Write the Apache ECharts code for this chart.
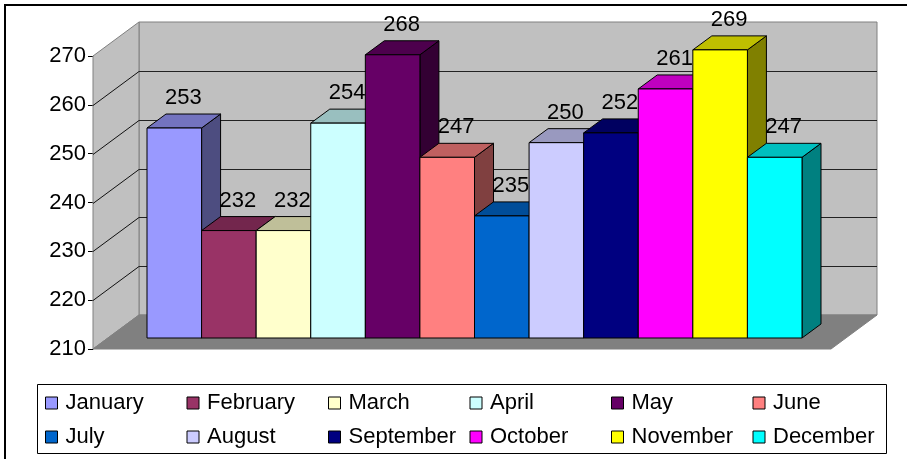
<!DOCTYPE html>
<html>
<head>
<meta charset="utf-8">
<script src="https://cdn.jsdelivr.net/npm/echarts@6/dist/echarts.min.js"></script>
<style>
html, body { margin: 0; padding: 0; background: #fff; }
#chart { width: 907px; height: 459px; }
</style>
</head>
<body>
<div id="chart"></div>
<script>
const months = ['January', 'February', 'March', 'April', 'May', 'June',
  'July', 'August', 'September', 'October', 'November', 'December'];
const values = [253, 232, 232, 254, 268, 247, 235, 250, 252, 261, 269, 247];
const colors = ['#9999FF', '#993366', '#FFFFCC', '#CCFFFF', '#660066', '#FF8080',
  '#0066CC', '#CCCCFF', '#000080', '#FF00FF', '#FFFF00', '#00FFFF'];
const yTicks = [210, 220, 230, 240, 250, 260, 270];

const FONT = 'Liberation Sans, Arial, sans-serif';
const FS = 22;
// fake 3d offsets (px)
const WALL = [46, -34];
const BAR_IN = [15, -11];
const BAR_DEPTH = [19, -14];
const AXIS_OFFSET = 39;
const FLOOR_RIGHT = 44;

const shade = (hex, f) => {
  const n = parseInt(hex.slice(1), 16);
  const r = Math.round(((n >> 16) & 255) * f);
  const g = Math.round(((n >> 8) & 255) * f);
  const b = Math.round((n & 255) * f);
  return 'rgb(' + r + ',' + g + ',' + b + ')';
};

const renderWalls = (params, api) => {
  const cs = params.coordSys;
  const fl = cs.x - AXIS_OFFSET;
  const fr = cs.x + cs.width + FLOOR_RIGHT;
  const y0 = api.coord([0, yTicks[0]])[1];
  const yt = api.coord([0, yTicks[yTicks.length - 1]])[1];
  const [dx, dy] = WALL;
  const children = [
    { type: 'rect', shape: { x: fl + dx, y: yt + dy, width: fr - fl, height: y0 - yt },
      style: { fill: '#C0C0C0', stroke: '#808080', lineWidth: 1 } },
    { type: 'polygon', shape: { points: [[fl, y0], [fl, yt], [fl + dx, yt + dy], [fl + dx, y0 + dy]] },
      style: { fill: '#C0C0C0', stroke: '#808080', lineWidth: 1 } },
    { type: 'polygon', shape: { points: [[fl, y0], [fr, y0], [fr + dx, y0 + dy], [fl + dx, y0 + dy]] },
      style: { fill: '#808080', stroke: '#808080', lineWidth: 1 } }
  ];
  yTicks.slice(1, -1).forEach(t => {
    const y = Math.round(api.coord([0, t])[1]) + 0.5;
    children.push({ type: 'line', shape: { x1: fl + dx, y1: y + dy, x2: fr + dx, y2: y + dy },
      style: { stroke: '#222', lineWidth: 1 } });
    children.push({ type: 'line', shape: { x1: fl, y1: y, x2: fl + dx, y2: y + dy },
      style: { stroke: '#111', lineWidth: 1 } });
  });
  return { type: 'group', children };
};

const renderBar = (k) => (params, api) => {
  const i = api.value(0);
  const v = api.value(1);
  const top = api.coord([i, v]);
  const bot = api.coord([i, yTicks[0]]);
  const w = api.size([1, 0])[0];
  const x0 = top[0] - w / 2 + BAR_IN[0];
  const x1 = x0 + w;
  const yt = top[1] + BAR_IN[1];
  const yb = bot[1] + BAR_IN[1];
  const [dx, dy] = BAR_DEPTH;
  const line = { stroke: '#000', lineWidth: 1, lineJoin: 'round' };
  return {
    type: 'group',
    children: [
      { type: 'polygon', shape: { points: [[x1, yb], [x1, yt], [x1 + dx, yt + dy], [x1 + dx, yb + dy]] },
        style: Object.assign({ fill: shade(colors[k], 0.5) }, line) },
      { type: 'polygon', shape: { points: [[x0, yt], [x1, yt], [x1 + dx, yt + dy], [x0 + dx, yt + dy]] },
        style: Object.assign({ fill: shade(colors[k], 0.75) }, line) },
      { type: 'rect', shape: { x: x0, y: yt, width: w, height: yb - yt },
        style: Object.assign({ fill: colors[k] }, line) },
      { type: 'text', x: (x0 + x1) / 2 + 9, y: yt - 30,
        style: { text: String(v), fill: '#000', font: FS + 'px ' + FONT, align: 'center', verticalAlign: 'middle' } }
    ]
  };
};

const chart = echarts.init(document.getElementById('chart'));

// one legend per item so the columns line up like the original table layout
const legends = months.map((m, k) => ({
  data: [m],
  left: 45 + (k % 6) * 141.5,
  top: k < 6 ? 392 : 426,
  padding: 0,
  icon: 'rect',
  itemWidth: 12,
  itemHeight: 12,
  selectedMode: false,
  itemStyle: { borderColor: '#000', borderWidth: 1 },
  textStyle: { fontSize: FS, fontFamily: FONT, color: '#000', padding: [0, 0, 0, 3] }
}));

const series = [{
  type: 'custom',
  name: 'walls',
  z: 1,
  silent: true,
  data: [[0, yTicks[0]]],
  renderItem: renderWalls
}].concat(months.map((m, k) => ({
  type: 'custom',
  name: m,
  z: 2,
  data: [[k, values[k]]],
  itemStyle: { color: colors[k] },
  renderItem: renderBar(k)
})));

chart.setOption({
  animation: false,
  backgroundColor: '#fff',
  grid: { left: 132, right: 120, top: 56, bottom: 110 },
  xAxis: { type: 'category', data: months, show: false },
  yAxis: {
    type: 'value',
    min: yTicks[0],
    max: yTicks[yTicks.length - 1],
    interval: 10,
    offset: AXIS_OFFSET,
    axisLine: { show: true, lineStyle: { color: '#808080' } },
    axisTick: { show: true, length: 5, lineStyle: { color: '#000' } },
    axisLabel: { fontSize: FS, fontFamily: FONT, color: '#000', margin: 7 },
    splitLine: { show: false }
  },
  legend: legends,
  graphic: [
    { type: 'rect', z: -1, shape: { x: 5, y: 5, width: 1000, height: 1000 },
      style: { fill: 'none', stroke: '#000', lineWidth: 2 } },
    { type: 'rect', shape: { x: 37.5, y: 384.5, width: 849, height: 69 },
      style: { fill: 'none', stroke: '#000', lineWidth: 1 } }
  ],
  series
});
</script>
</body>
</html>
